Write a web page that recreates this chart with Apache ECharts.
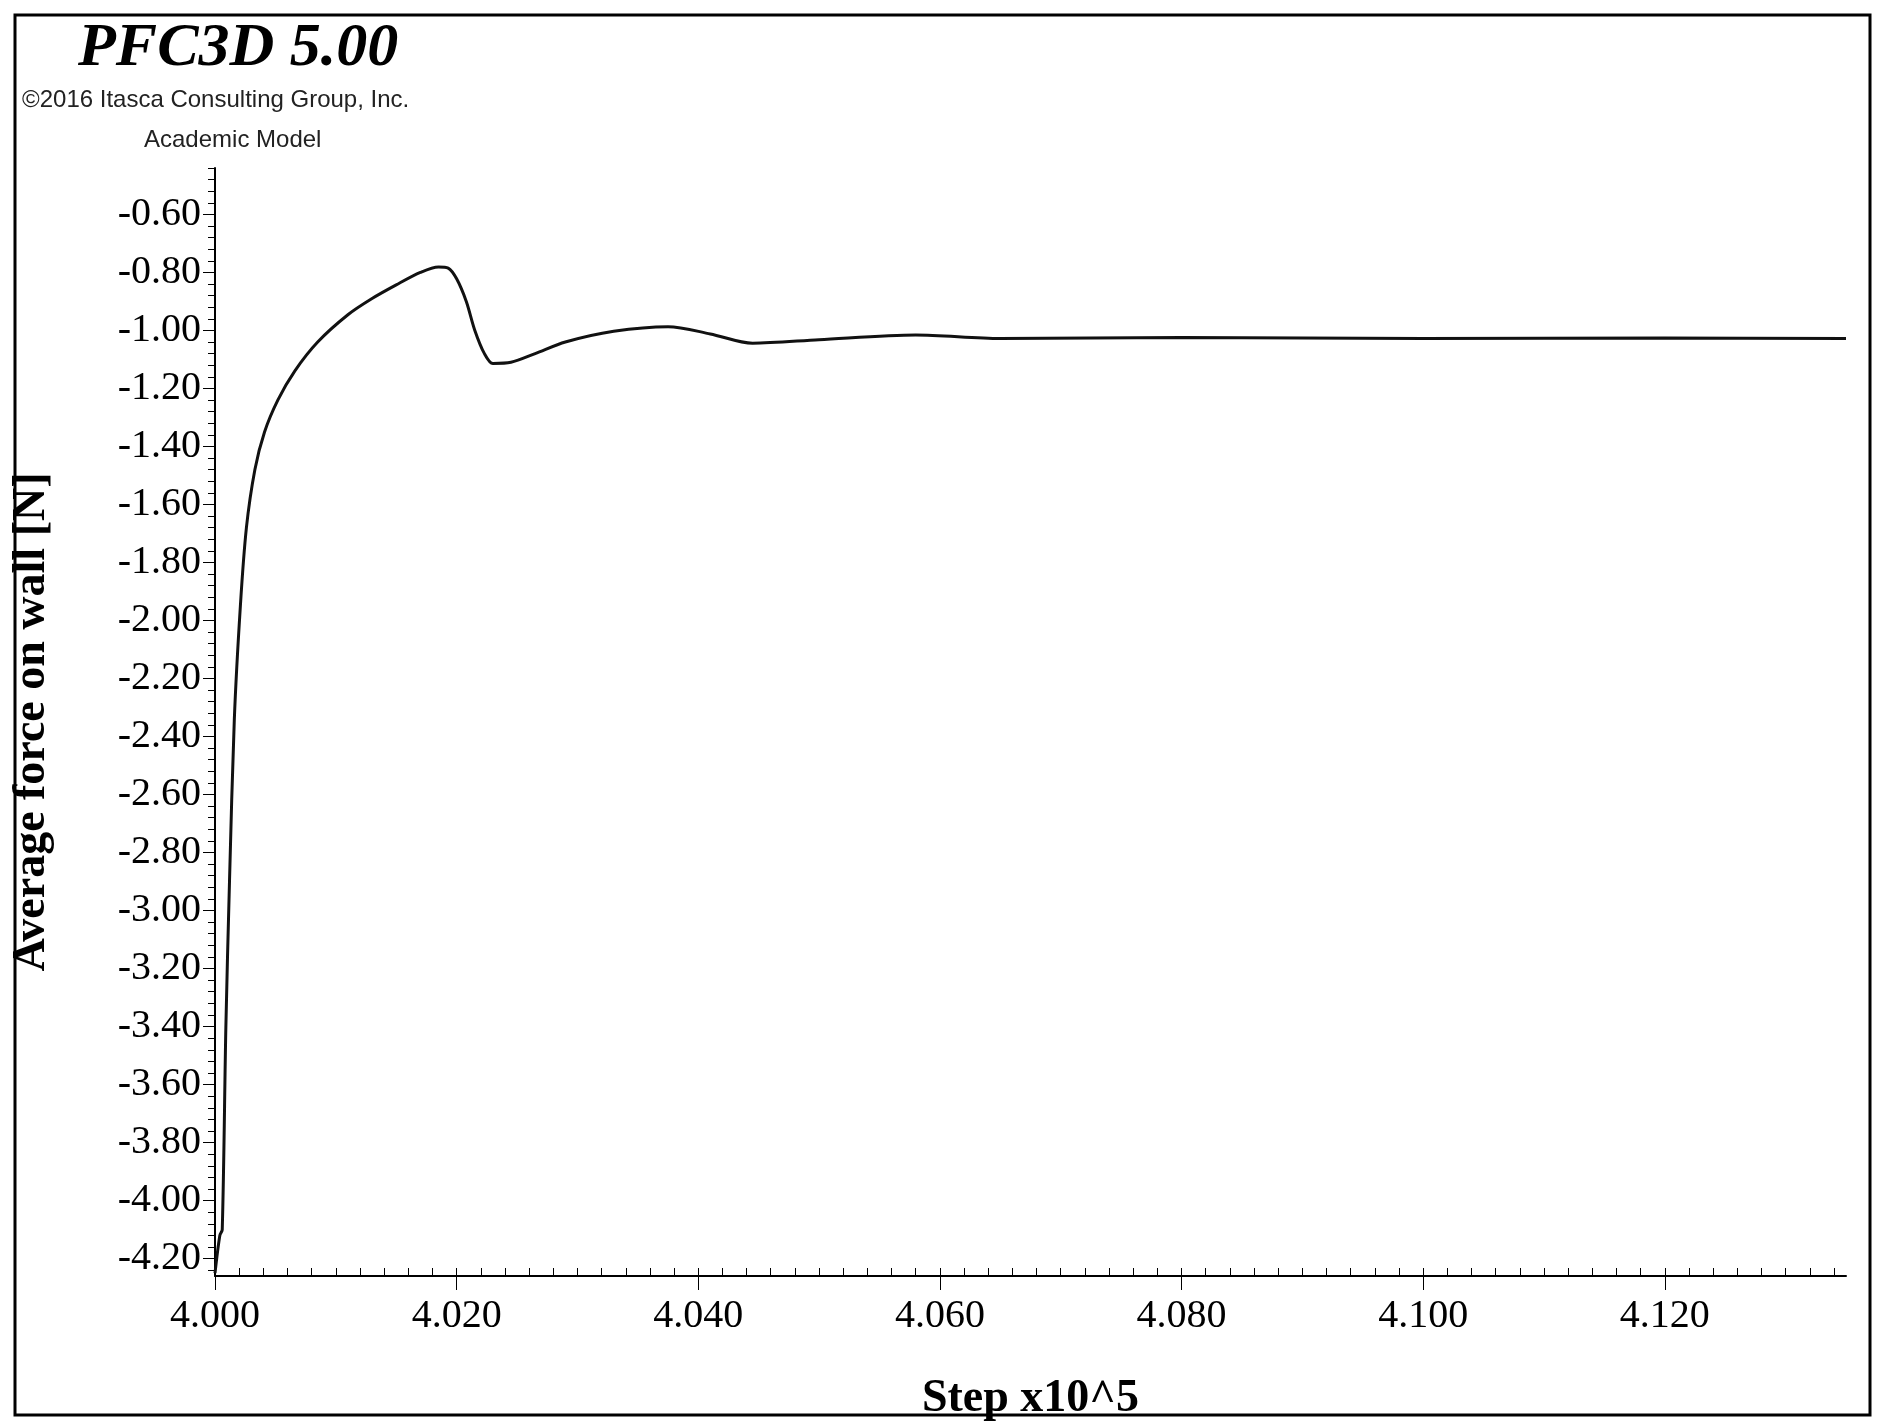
<!DOCTYPE html><html><head><meta charset="utf-8"><script src="https://cdn.jsdelivr.net/npm/echarts@6/dist/echarts.min.js"></script>
<style>html,body{margin:0;background:#fff}#c{width:1886px;height:1427px}</style></head><body><div id="c"></div><script>
const steps=[4.0000,4.0004,4.0006,4.0009,4.0012,4.0016,4.0021,4.0026,4.0033,4.0041,4.0052,4.0066,4.0085,4.0110,4.0130,4.0150,4.0170,4.0185,4.0193,4.0200,4.0208,4.0215,4.0223,4.0230,4.0245,4.0265,4.0290,4.0330,4.0375,4.0410,4.0445,4.0500,4.0580,4.0650,4.0800,4.1000,4.1200,4.1350];
const force=[-4.25,-4.12,-4.10,-3.40,-2.90,-2.34,-1.95,-1.68,-1.48,-1.35,-1.24,-1.14,-1.04,-0.946,-0.89,-0.843,-0.80,-0.781,-0.785,-0.822,-0.90,-0.999,-1.08,-1.114,-1.11,-1.08,-1.040,-1.003,-0.987,-1.012,-1.044,-1.032,-1.016,-1.028,-1.024,-1.028,-1.026,-1.028];
const yLabels=[-4.2,-4.0,-3.8,-3.6,-3.4,-3.2,-3.0,-2.8,-2.6,-2.4,-2.2,-2.0,-1.8,-1.6,-1.4,-1.2,-1.0,-0.8,-0.6];
const xLabels=[4.000,4.020,4.040,4.060,4.080,4.100,4.120];
const yMinor=[];for(let i=0;i<=95;i++)yMinor.push(+(-4.24+i*0.04).toFixed(2));
const xMinor=[];for(let i=0;i<=67;i++)xMinor.push(+(4+i*0.002).toFixed(3));
const serif='"Liberation Serif","Times New Roman",serif';
const ch=echarts.init(document.getElementById('c'));
ch.setOption({animation:false,
grid:{left:215,right:40,top:168,bottom:145},
graphic:[
{type:'rect',shape:{x:15,y:15,width:1855,height:1400},style:{fill:'none',stroke:'#000',lineWidth:3}},
{type:'text',left:78,top:18,style:{text:'PFC3D 5.00',font:'italic bold 62px '+serif,fill:'#000'}},
{type:'text',left:22,top:88,style:{text:'\u00a92016 Itasca Consulting Group, Inc.',font:'24px "Liberation Sans",Arial,sans-serif',fill:'#222'}},
{type:'text',left:144,top:128,style:{text:'Academic Model',font:'24px "Liberation Sans",Arial,sans-serif',fill:'#222'}}
],
xAxis:[{type:'value',min:4.0,max:4.135,position:'bottom',
 name:'Step x10^5',nameLocation:'middle',nameGap:100,nameTextStyle:{fontFamily:serif,fontWeight:'bold',fontSize:46,color:'#000'},
 axisLine:{lineStyle:{color:'#000',width:2}},splitLine:{show:false},
 axisTick:{customValues:xLabels,length:14,lineStyle:{color:'#000'}},
 axisLabel:{customValues:xLabels,formatter:v=>v.toFixed(3),fontFamily:serif,fontSize:40,color:'#000',margin:20}},
 {type:'value',min:4.0,max:4.135,position:'bottom',axisLine:{show:false},splitLine:{show:false},axisLabel:{show:false},
 axisTick:{inside:true,customValues:xMinor,length:8,lineStyle:{color:'#000'}}}],
yAxis:[{type:'value',min:-4.26,max:-0.44,
 name:'Average force on wall [N]',nameLocation:'middle',nameGap:160,nameTextStyle:{fontFamily:serif,fontWeight:'bold',fontSize:46,color:'#000'},
 axisLine:{lineStyle:{color:'#000',width:2}},splitLine:{show:false},
 axisTick:{customValues:yLabels,length:12,lineStyle:{color:'#000'}},
 axisLabel:{customValues:yLabels,formatter:v=>v.toFixed(2),fontFamily:serif,fontSize:40,color:'#000',margin:14}},
 {type:'value',min:-4.26,max:-0.44,position:'left',axisLine:{show:false},splitLine:{show:false},axisLabel:{show:false},
 axisTick:{customValues:yMinor,length:7,lineStyle:{color:'#000'}}}],
series:[{type:'line',smooth:0.3,showSymbol:false,data:steps.map((s,i)=>[s,force[i]]),lineStyle:{color:'#111',width:3}}]
});
</script></body></html>
